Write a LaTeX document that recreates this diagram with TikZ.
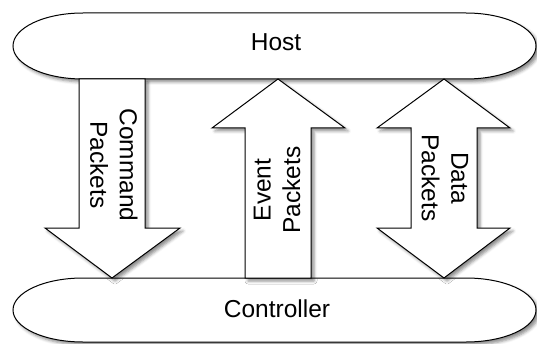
\documentclass[tikz,border=0pt]{standalone}
\usepackage{fontspec}
\setmainfont{Liberation Sans}
\usetikzlibrary{shadows.blur}
\tikzset{
  shp/.style={draw=black, line width=1pt, fill=white, line join=miter,
    blur shadow={shadow xshift=3pt, shadow yshift=-3pt, shadow blur radius=3pt, shadow opacity=45}},
  lbl/.style={font=\fontsize{24.5}{29.5}\selectfont, align=center, inner sep=0pt},
}
\begin{document}
\begin{tikzpicture}[x=1pt,y=1pt]
\useasboundingbox (0,0) rectangle (537,343);
% Host
\path[shp] (83,264) -- (466,264) arc[start angle=-90, end angle=90, x radius=70, y radius=33]
  -- (83,330) arc[start angle=90, end angle=270, x radius=70, y radius=33] -- cycle;
% Controller
\path[shp] (83,1) -- (466,1) arc[start angle=-90, end angle=90, x radius=70, y radius=32]
  -- (83,65) arc[start angle=90, end angle=270, x radius=70, y radius=32] -- cycle;
% Command arrow (down)
\path[shp] (79,264) -- (145,264) -- (145,115) -- (180,115) -- (112,65) -- (45,115) -- (79,115) -- cycle;
% Event arrow (up)
\path[shp] (245,65) -- (311,65) -- (311,215) -- (345,215) -- (278,264) -- (212,215) -- (245,215) -- cycle;
% Data arrow (both)
\path[shp] (444,264) -- (510,215) -- (477,215) -- (477,115) -- (510,115) -- (444,65)
  -- (377,115) -- (411,115) -- (411,215) -- (377,215) -- cycle;
% Labels
\node[lbl, anchor=base] (host) at (276,292) {Host};
\node[lbl, anchor=base] (controller) at (277,26) {Controller};
\node[lbl, rotate=-90] (cmd) at (114,178) {Command\\Packets};
\node[lbl, rotate=90] (evt) at (277,153) {Event\\Packets};
\node[lbl, rotate=-90] (data) at (445,165) {Data\\Packets};
\end{tikzpicture}
\end{document}
